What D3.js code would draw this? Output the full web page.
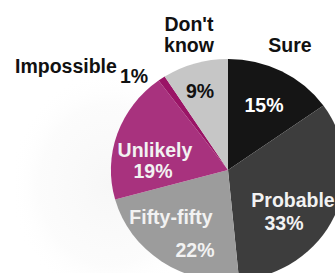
<!DOCTYPE html>
<html>
<head>
<meta charset="utf-8">
<script src="https://cdn.jsdelivr.net/npm/d3@7"></script>
<style>
  html, body { margin: 0; padding: 0; background: #fff; }
  #chart { width: 335px; height: 273px; overflow: hidden; }
  text { font-family: "Liberation Sans", Arial, Helvetica, sans-serif; font-weight: bold; }
</style>
</head>
<body>
<div id="chart"></div>
<script>
//Datos
const categories = ['Sure', 'Probable', 'Fifty-fifty', 'Unlikely', 'Impossible', "Don't know"];
const values = [15, 33, 22, 19, 1, 9];
const percentLabels = ['15%', '33%', '22%', '19%', '1%', '9%'];

//Colores
const COLORS = ['#151515', '#3d3d3d', '#9c9c9c', '#a8327e', '#9a1466', '#c6c6c6'];

let width = 335, height = 273;
let cx = 228, cy = 170, r = 111, stretch = 1.055;

let svg = d3.select('#chart')
  .append('svg')
    .attr('width', width)
    .attr('height', height);

//Halo moteado de fondo (muy suave)
let defs = svg.append('defs');
let grad = defs.append('radialGradient').attr('id', 'halo');
grad.append('stop').attr('offset', '0%').attr('stop-color', '#e8e8e8').attr('stop-opacity', 0.35);
grad.append('stop').attr('offset', '70%').attr('stop-color', '#eeeeee').attr('stop-opacity', 0.2);
grad.append('stop').attr('offset', '100%').attr('stop-color', '#ffffff').attr('stop-opacity', 0);
svg.append('ellipse')
  .attr('cx', 110).attr('cy', 185)
  .attr('rx', 100).attr('ry', 115)
  .attr('fill', 'url(#halo)');

let pie = d3.pie().sort(null).value(function(d) { return d; });
let arc = d3.arc().innerRadius(0).outerRadius(r);

let color = d3.scaleOrdinal().domain(categories).range(COLORS);

let g = svg.append('g')
  .attr('transform', 'translate(' + cx + ',' + cy + ') scale(' + stretch + ',1)');

g.selectAll('path')
  .data(pie(values))
  .enter()
  .append('path')
    .attr('d', arc)
    .attr('fill', function(d, i) { return color(categories[i]); });

//Etiquetas
let labels = [
  { t: "Don't", x: 189, y: 31, c: '#111', a: 'middle' },
  { t: 'know', x: 189, y: 52, c: '#111', a: 'middle' },
  { t: categories[0], x: 290, y: 52, c: '#111', a: 'middle' },
  { t: categories[4], x: 15, y: 73, c: '#111', a: 'start' },
  { t: percentLabels[4], x: 134, y: 83, c: '#111', a: 'middle' },
  { t: percentLabels[5], x: 200, y: 98, c: '#111', a: 'middle' },
  { t: percentLabels[0], x: 264, y: 112, c: '#fff', a: 'middle' },
  { t: categories[3], x: 155, y: 157, c: '#f2f2f2', a: 'middle' },
  { t: percentLabels[3], x: 153, y: 178, c: '#f2f2f2', a: 'middle' },
  { t: categories[1], x: 293, y: 207, c: '#f2f2f2', a: 'middle' },
  { t: percentLabels[1], x: 284, y: 230, c: '#f2f2f2', a: 'middle' },
  { t: categories[2], x: 171, y: 224, c: '#f2f2f2', a: 'middle' },
  { t: percentLabels[2], x: 195, y: 257, c: '#f2f2f2', a: 'middle' }
];

svg.selectAll('.lbl')
  .data(labels)
  .enter()
  .append('text')
    .attr('class', 'lbl')
    .attr('x', function(d) { return d.x; })
    .attr('y', function(d) { return d.y; })
    .attr('text-anchor', function(d) { return d.a; })
    .attr('fill', function(d) { return d.c; })
    .style('font-size', '19.5px')
    .text(function(d) { return d.t; });
</script>
</body>
</html>
